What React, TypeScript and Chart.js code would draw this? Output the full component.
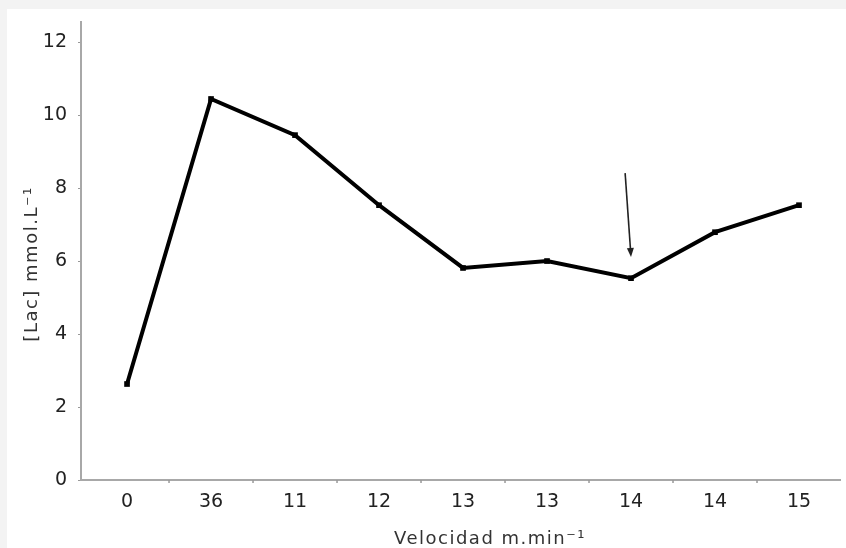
import React, { useEffect, useRef } from "react";
import { Chart, registerables } from "chart.js";

Chart.register(...registerables);

const categories = ["0", "36", "11", "12", "13", "13", "14", "14", "15"];
const lactate = [2.63, 10.44, 9.45, 7.53, 5.81, 6.0, 5.53, 6.79, 7.53];
const yTicks = [0, 2, 4, 6, 8, 10, 12];
const arrowFrom = { x: 5.93, y: 8.41 };
const arrowTo = { x: 6.0, y: 6.11 };
const xTitle = "Velocidad m.min\u207B\u00B9";
const yTitle = "[Lac] mmol.L\u207B\u00B9";

const FONT = "'DejaVu Sans', Verdana, sans-serif";

const decorPlugin = {
  id: "decorPlugin",
  afterDatasetsDraw(chart: any) {
    const { ctx, scales, chartArea } = chart;
    const xs = scales.x;
    const ys = scales.y;
    ctx.save();
    // boundary tick marks on the x axis
    ctx.strokeStyle = "#999";
    ctx.lineWidth = 1.5;
    for (let i = 0; i < categories.length; i++) {
      const px = xs.getPixelForValue(i + 0.5);
      if (px > chartArea.right) continue;
      ctx.beginPath();
      ctx.moveTo(px, chartArea.bottom);
      ctx.lineTo(px, chartArea.bottom + 3);
      ctx.stroke();
    }
    // arrow
    const x1 = xs.getPixelForValue(arrowFrom.x);
    const y1 = ys.getPixelForValue(arrowFrom.y);
    const x2 = xs.getPixelForValue(arrowTo.x);
    const y2 = ys.getPixelForValue(arrowTo.y);
    const ang = Math.atan2(y2 - y1, x2 - x1);
    ctx.strokeStyle = "#222";
    ctx.fillStyle = "#222";
    ctx.lineWidth = 1.6;
    ctx.beginPath();
    ctx.moveTo(x1, y1);
    ctx.lineTo(x2 - Math.cos(ang) * 6, y2 - Math.sin(ang) * 6);
    ctx.stroke();
    const hl = 9, hw = 3.5;
    ctx.beginPath();
    ctx.moveTo(x2, y2);
    ctx.lineTo(x2 - Math.cos(ang) * hl - Math.sin(ang) * hw, y2 - Math.sin(ang) * hl + Math.cos(ang) * hw);
    ctx.lineTo(x2 - Math.cos(ang) * hl + Math.sin(ang) * hw, y2 - Math.sin(ang) * hl - Math.cos(ang) * hw);
    ctx.closePath();
    ctx.fill();
    // axis titles
    ctx.fillStyle = "#333";
    ctx.font = `18px ${FONT}`;
    (ctx as any).letterSpacing = "1.5px";
    ctx.textAlign = "center";
    ctx.textBaseline = "alphabetic";
    ctx.fillText(xTitle, 483, 535);
    ctx.translate(30, 255);
    ctx.rotate(-Math.PI / 2);
    ctx.fillText(yTitle, 0, 0);
    ctx.restore();
  },
};

export default function App() {
  const ref = useRef<HTMLCanvasElement>(null);
  useEffect(() => {
    if (!ref.current) return;
    const chart = new Chart(ref.current, {
      type: "line",
      data: {
        datasets: [
          {
            data: lactate.map((v, i) => ({ x: i, y: v })),
            borderColor: "#000",
            backgroundColor: "#000",
            borderWidth: 4,
            pointStyle: "rect",
            pointRadius: 4,
            pointBorderWidth: 0,
            tension: 0,
          },
        ],
      },
      options: {
        animation: false,
        responsive: false,
        devicePixelRatio: 1,
        layout: { padding: { top: 13, right: 6, left: 0, bottom: 0 } },
        plugins: { legend: { display: false }, tooltip: { enabled: false } },
        scales: {
          x: {
            type: "linear",
            min: -0.548,
            max: 8.488,
            afterBuildTicks(scale: any) {
              scale.ticks = categories.map((_, i) => ({ value: i }));
            },
            grid: { display: false, drawTicks: false },
            border: { color: "#a8a8a8", width: 2 },
            ticks: {
              color: "#222",
              font: { family: FONT, size: 19 },
              padding: 11,
              maxRotation: 0,
              autoSkip: false,
              callback: (v: any) => categories[Math.round(Number(v))] ?? "",
            },
            afterFit(scale: any) {
              scale.height = 68;
              scale.paddingLeft = 0;
              scale.paddingRight = 0;
            },
          },
          y: {
            min: 0,
            max: 12.55,
            afterBuildTicks(scale: any) {
              scale.ticks = yTicks.map((v) => ({ value: v }));
            },
            grid: { drawOnChartArea: false, tickLength: 3, tickColor: "#999" },
            border: { color: "#a8a8a8", width: 2 },
            ticks: { color: "#222", font: { family: FONT, size: 19 }, padding: 11 },
            afterFit(scale: any) {
              scale.width = 74;
              scale.paddingTop = 0;
              scale.paddingBottom = 0;
            },
          },
        },
      },
      plugins: [decorPlugin],
    });
    return () => chart.destroy();
  }, []);
  return (
    <div style={{ position: "absolute", left: 0, top: 0, width: 846, height: 548, background: "#f3f3f3" }}>
      <div style={{ position: "absolute", left: 7, top: 9, width: 839, height: 539, background: "#fff" }}>
        <canvas ref={ref} width={839} height={539} style={{ display: "block" }} />
      </div>
    </div>
  );
}
